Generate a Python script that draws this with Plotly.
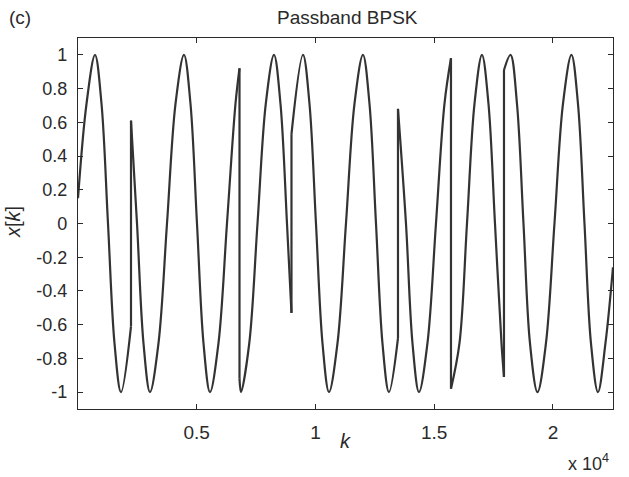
import plotly.graph_objects as go

# ---------------- data ----------------
# continuous pieces of the passband BPSK waveform between phase flips
seg1_k = [0, 358, 716, 990, 1263, 1537, 1811, 2232]
seg1_x = [0.15, 0.71, 1.0, 0.71, 0.0, -0.71, -1.0, -0.61]

seg2_k = [2232, 2485, 2758, 3032, 3390, 3748, 4106, 4464, 4737, 5011, 5285, 5559, 5916, 6274, 6632, 6801]
seg2_x = [0.61, 0.0, -0.71, -1.0, -0.71, 0.0, 0.71, 1.0, 0.71, 0.0, -0.71, -1.0, -0.71, 0.0, 0.71, 0.92]

seg3_k = [6801, 6864, 7213, 7559, 7908, 8254, 8527, 8801, 8990]
seg3_x = [-0.92, -1.0, -0.71, 0.0, 0.71, 1.0, 0.71, 0.0, -0.53]

seg4_k = [8990, 9475, 9748, 10022, 10296, 10570, 10928, 11285, 11643, 12001, 12275, 12549, 12822, 13096, 13475]
seg4_x = [0.53, 1.0, 0.71, 0.0, -0.71, -1.0, -0.71, 0.0, 0.71, 1.0, 0.71, 0.0, -0.71, -1.0, -0.68]

seg5_k = [13475, 13812, 14086, 14360, 14717, 15075, 15433, 15707]
seg5_x = [0.68, 0.0, -0.71, -1.0, -0.71, 0.0, 0.71, 0.98]

seg6_k = [15707, 16065, 16381, 16697, 17012, 17286, 17560, 17834, 17939]
seg6_x = [-0.98, -0.71, 0.0, 0.71, 1.0, 0.71, 0.0, -0.71, -0.91]

seg7_k = [17939, 18213, 18486, 18760, 19034, 19350, 19707, 20065, 20423, 20781, 21055, 21329, 21602, 21897, 22213, 22529]
seg7_x = [0.91, 1.0, 0.71, 0.0, -0.71, -1.0, -0.71, 0.0, 0.71, 1.0, 0.71, 0.0, -0.71, -1.0, -0.71, -0.26]

# phase flips (symbol boundaries): position, value before, value after
flip_k = [2232, 6801, 8990, 13475, 15707, 17939]
flip_before = [-0.61, 0.92, -0.53, -0.68, 0.98, -0.91]
flip_after = [0.61, -0.92, 0.53, 0.68, -0.98, 0.91]

x_tick_vals = [5000, 10000, 15000, 20000]
x_tick_text = ["0.5", "1", "1.5", "2"]
y_tick_vals = [-1, -0.8, -0.6, -0.4, -0.2, 0, 0.2, 0.4, 0.6, 0.8, 1]
y_tick_text = ["-1", "-0.8", "-0.6", "-0.4", "-0.2", "0", "0.2", "0.4", "0.6", "0.8", "1"]

title_text = "Passband BPSK"
panel_text = "(c)"
x_label = "<i>k</i>"
y_label = "<i>x</i>[<i>k</i>]"
x_mult = "x 10<sup>4</sup>"

# ---------------- styling ----------------
W, H = 629, 477
L, R, T, B = 78, 16, 38, 68
FONT = "Liberation Sans, Arial, Helvetica, sans-serif"
INK = "#2a2a2a"
LINE = "#333333"


def px_x(px):
    return (px - L) / (W - L - R)


def px_y(py):
    return (H - B - py) / (H - T - B)


fig = go.Figure()

segments = [(seg1_k, seg1_x), (seg2_k, seg2_x), (seg3_k, seg3_x), (seg4_k, seg4_x),
            (seg5_k, seg5_x), (seg6_k, seg6_x), (seg7_k, seg7_x)]
for sk, sx in segments:
    fig.add_trace(go.Scatter(x=sk, y=sx, mode="lines",
                             line=dict(color=LINE, width=2.2, shape="spline", smoothing=1.0),
                             hoverinfo="skip", showlegend=False))

jx, jy = [], []
for k, a, b in zip(flip_k, flip_before, flip_after):
    jx += [k, k, None]
    jy += [a, b, None]
fig.add_trace(go.Scatter(x=jx, y=jy, mode="lines", line=dict(color=LINE, width=2.2),
                         hoverinfo="skip", showlegend=False))

axis_common = dict(showgrid=False, zeroline=False, showline=True, linecolor=INK, linewidth=1.4,
                   ticks="inside", ticklen=5, tickwidth=1.2, tickcolor=INK, mirror="ticks")

fig.update_layout(
    width=W, height=H,
    margin=dict(l=L, r=R, t=T, b=B, pad=0),
    paper_bgcolor="white", plot_bgcolor="white",
    font=dict(family=FONT, color=INK),
    xaxis=dict(range=[0, 22530], tickvals=x_tick_vals, ticktext=x_tick_text,
               ticklabelstandoff=6, tickfont=dict(family=FONT, size=19, color=INK), **axis_common),
    yaxis=dict(range=[-1.1, 1.1], tickvals=y_tick_vals, ticktext=y_tick_text,
               ticklabelstandoff=6, tickfont=dict(family=FONT, size=18, color=INK), **axis_common),
    annotations=[
        dict(text=title_text, x=px_x(347), y=px_y(18), xref="paper", yref="paper",
             showarrow=False, xanchor="center", yanchor="middle",
             font=dict(family=FONT, size=19, color=INK)),
        dict(text=panel_text, x=px_x(20), y=px_y(18), xref="paper", yref="paper",
             showarrow=False, xanchor="center", yanchor="middle",
             font=dict(family=FONT, size=19, color=INK)),
        dict(text=y_label, x=px_x(13), y=px_y(222), xref="paper", yref="paper",
             showarrow=False, xanchor="center", yanchor="middle", textangle=-90,
             font=dict(family=FONT, size=20, color=INK)),
        dict(text=x_label, x=px_x(345), y=px_y(441), xref="paper", yref="paper",
             showarrow=False, xanchor="center", yanchor="middle",
             font=dict(family=FONT, size=20, color=INK)),
        dict(text=x_mult, x=px_x(588), y=px_y(462), xref="paper", yref="paper",
             showarrow=False, xanchor="center", yanchor="middle",
             font=dict(family=FONT, size=18, color=INK)),
    ],
)

fig.write_html("out.html", config={"displayModeBar": False},
               post_script="document.body.style.margin='0';document.body.style.overflow='hidden';")
